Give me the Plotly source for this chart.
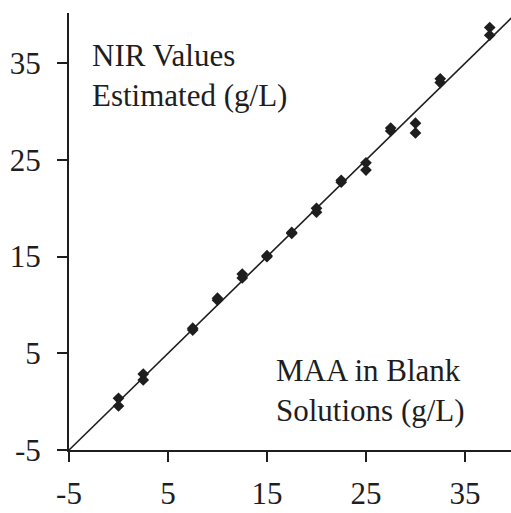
import plotly.graph_objects as go

# MAA concentration in blank solutions (g/L) and NIR estimates (g/L)
maa_added = [0, 0, 2.5, 2.5, 7.5, 7.5, 10, 10, 12.5, 12.5, 15, 15, 17.5, 17.5,
             20, 20, 22.5, 22.5, 25, 25, 27.5, 27.5, 30, 30, 32.5, 32.5, 37.5, 37.5]
nir_estimated = [0.35, -0.45, 2.85, 2.25, 7.4, 7.6, 10.5, 10.7, 12.8, 13.2, 15.0, 15.1,
                 17.4, 17.5, 19.6, 20.0, 22.7, 22.9, 24.7, 23.95, 28.0, 28.3,
                 28.8, 27.8, 33.0, 33.4, 38.7, 37.9]

# Ideal calibration line
line_x = [-5, 40]
line_y = [-5, 40]

tick_vals = [-5, 5, 15, 25, 35]
tick_text = ["-5", "5", "15", "25", "35"]

ink = "#1e1e1e"
serif = "Liberation Serif, Times New Roman, serif"

fig = go.Figure()
fig.add_trace(go.Scatter(x=line_x, y=line_y, mode="lines",
                         line=dict(color=ink, width=1.6), hoverinfo="skip"))
fig.add_trace(go.Scatter(x=maa_added, y=nir_estimated, mode="markers",
                         marker=dict(symbol="diamond", size=9, color=ink,
                                     line=dict(width=0))))

axis_common = dict(
    tickvals=tick_vals, ticktext=tick_text,
    showgrid=False, zeroline=False, automargin=False,
    showline=True, linecolor=ink, linewidth=2,
    ticks="outside", ticklen=10, tickwidth=2, tickcolor=ink,
    tickfont=dict(family=serif, size=31, color=ink),
)

fig.update_xaxes(range=[-5, 39.65], ticklabelstandoff=5, **axis_common)
fig.update_yaxes(range=[-5, 40.2], ticklabelstandoff=10, **axis_common)

fig.add_annotation(xref="paper", yref="paper", x=0.0475, y=0.947,
                   xanchor="left", yanchor="top", align="left", showarrow=False,
                   text="NIR Values<br>Estimated (g/L)",
                   font=dict(family=serif, size=31, color=ink))
fig.add_annotation(xref="paper", yref="paper", x=0.463, y=0.226,
                   xanchor="left", yanchor="top", align="left", showarrow=False,
                   text="MAA in Blank<br>Solutions (g/L)",
                   font=dict(family=serif, size=31, color=ink))

fig.update_layout(
    width=511, height=513,
    margin=dict(l=69, r=0, t=13, b=63),
    paper_bgcolor="white", plot_bgcolor="white",
    showlegend=False,
)

fig.write_html("out.html")
